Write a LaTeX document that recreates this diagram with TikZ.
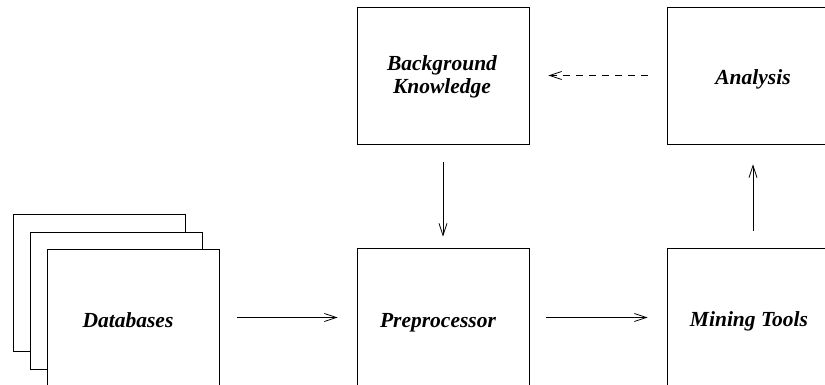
\documentclass[tikz,border=0pt]{standalone}
\usepackage{fontspec}
\setmainfont{Liberation Serif}
\usetikzlibrary{arrows.meta}
\tikzset{
  box/.style={draw=black, line width=0.8pt, minimum width=172pt, minimum height=137pt,
    inner sep=0pt, fill=white},
  lbl/.style={inner sep=0pt, align=center, font=\fontsize{21.5}{23}\selectfont\bfseries\itshape},
  arr/.style={draw=black, line width=0.8pt, -{Straight Barb[length=12pt,width=8pt,line width=0.8pt]}},
}
\begin{document}
\begin{tikzpicture}[x=1pt,y=-1pt]
\useasboundingbox (0,0) rectangle (825,385);
\clip (0,0) rectangle (825,385);
\node[box] (db1) at (99,283) {};
\node[box] (db2) at (116,300.5) {};
\node[box] (db) at (133,317.5) {};
\node[box] (bk) at (443,75.5) {};
\node[box] (an) at (753,75.5) {};
\node[box] (pre) at (443,316.5) {};
\node[box] (mt) at (753,316.5) {};
\node[lbl] (dbt) at (128,320) {Databases};
\node[lbl] (bkt) at (442,77) {Background\\Knowledge};
\node[lbl] (ant) at (753,79) {Analysis};
\node[lbl] (pret) at (438,322.5) {Preprocessor};
\node[lbl] (mtt) at (749,321) {Mining Tools};
\draw[arr, shorten <=18pt, shorten >=19pt] (db.east) -- (db.east -| pre.west);
\draw[arr, shorten <=17pt, shorten >=19pt] (pre.east |- db.east) -- (db.east -| mt.west);
\draw[arr, shorten <=18pt, shorten >=11pt] (bk.south) -- (pre.north);
\draw[arr, shorten <=17pt, shorten >=20pt] (mt.north) -- (an.south);
\draw[arr, dash pattern=on 7pt off 6pt, shorten <=19pt, shorten >=19pt] (an.west) -- (bk.east);
\end{tikzpicture}
\end{document}
